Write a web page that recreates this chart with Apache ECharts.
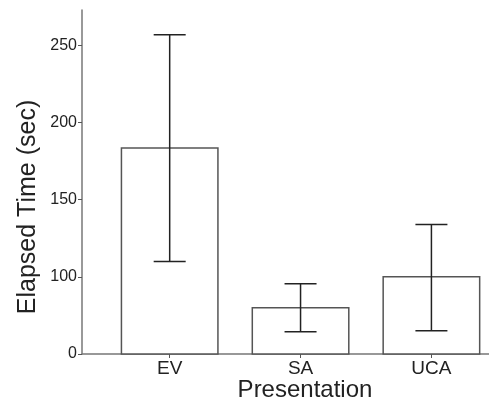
<!DOCTYPE html>
<html><head><meta charset="utf-8">
<script src="https://cdn.jsdelivr.net/npm/echarts@6/dist/echarts.min.js"></script>
<style>html,body{margin:0;padding:0;background:#fff}#c{width:489px;height:406px}</style>
</head><body><div id="c"></div>
<script>
var categories = ['EV', 'SA', 'UCA'];
var means = [184, 80.5, 100.5];
var errLow = [110, 64.5, 65];
var errHigh = [257, 95.5, 134];
var yTickValues = [50, 100, 150, 200, 250];
var yTickLabels = ['0', '100', '150', '200', '250'];
var xPositions = [1, 2, 3];

var chart = echarts.init(document.getElementById('c'));
var font = 'Liberation Sans, Arial, sans-serif';
chart.setOption({
  animation: false,
  grid: {left: 82, right: 0, top: 10, bottom: 52},
  xAxis: {
    type: 'value', min: 0.33, max: 3.44,
    splitLine: {show: false},
    axisLine: {show: true, lineStyle: {color: '#777', width: 1.5}},
    axisTick: {show: true, customValues: xPositions, length: 4, lineStyle: {color: '#555'}},
    axisLabel: {customValues: xPositions, color: '#222', fontFamily: font, fontSize: 19, margin: 5,
      formatter: function (v) { return categories[Math.round(v) - 1]; }}
  },
  yAxis: {
    type: 'value', min: 50, max: 273,
    splitLine: {show: false},
    axisLine: {show: true, lineStyle: {color: '#777', width: 1.5}},
    axisTick: {show: true, customValues: yTickValues, length: 4, lineStyle: {color: '#555'}},
    axisLabel: {customValues: yTickValues, color: '#222', fontFamily: font, fontSize: 16, margin: 5,
      formatter: function (v) { return yTickLabels[yTickValues.indexOf(v)]; }}
  },
  graphic: [
    {type: 'text', x: 28, y: 207, rotation: Math.PI / 2,
      style: {text: 'Elapsed Time (sec)', font: '25px ' + font, fill: '#222', align: 'center', verticalAlign: 'middle'}},
    {type: 'text', x: 305, y: 390,
      style: {text: 'Presentation', font: '24px ' + font, fill: '#222', align: 'center', verticalAlign: 'middle'}}
  ],
  series: [
    {
      type: 'bar', barWidth: 98,
      data: xPositions.map(function (x, i) { return [x, means[i]]; }),
      itemStyle: {color: '#fff', borderColor: '#555', borderWidth: 1.5}
    },
    {
      type: 'custom',
      data: xPositions.map(function (x, i) { return [x, errLow[i], errHigh[i]]; }),
      renderItem: function (params, api) {
        var lo = api.coord([api.value(0), api.value(1)]);
        var hi = api.coord([api.value(0), api.value(2)]);
        var w = 16;
        var st = {stroke: '#222', lineWidth: 1.5};
        return {type: 'group', children: [
          {type: 'line', shape: {x1: lo[0], y1: lo[1], x2: hi[0], y2: hi[1]}, style: st},
          {type: 'line', shape: {x1: lo[0] - w, y1: lo[1], x2: lo[0] + w, y2: lo[1]}, style: st},
          {type: 'line', shape: {x1: hi[0] - w, y1: hi[1], x2: hi[0] + w, y2: hi[1]}, style: st}
        ]};
      },
      z: 5
    }
  ]
});
</script></body></html>
